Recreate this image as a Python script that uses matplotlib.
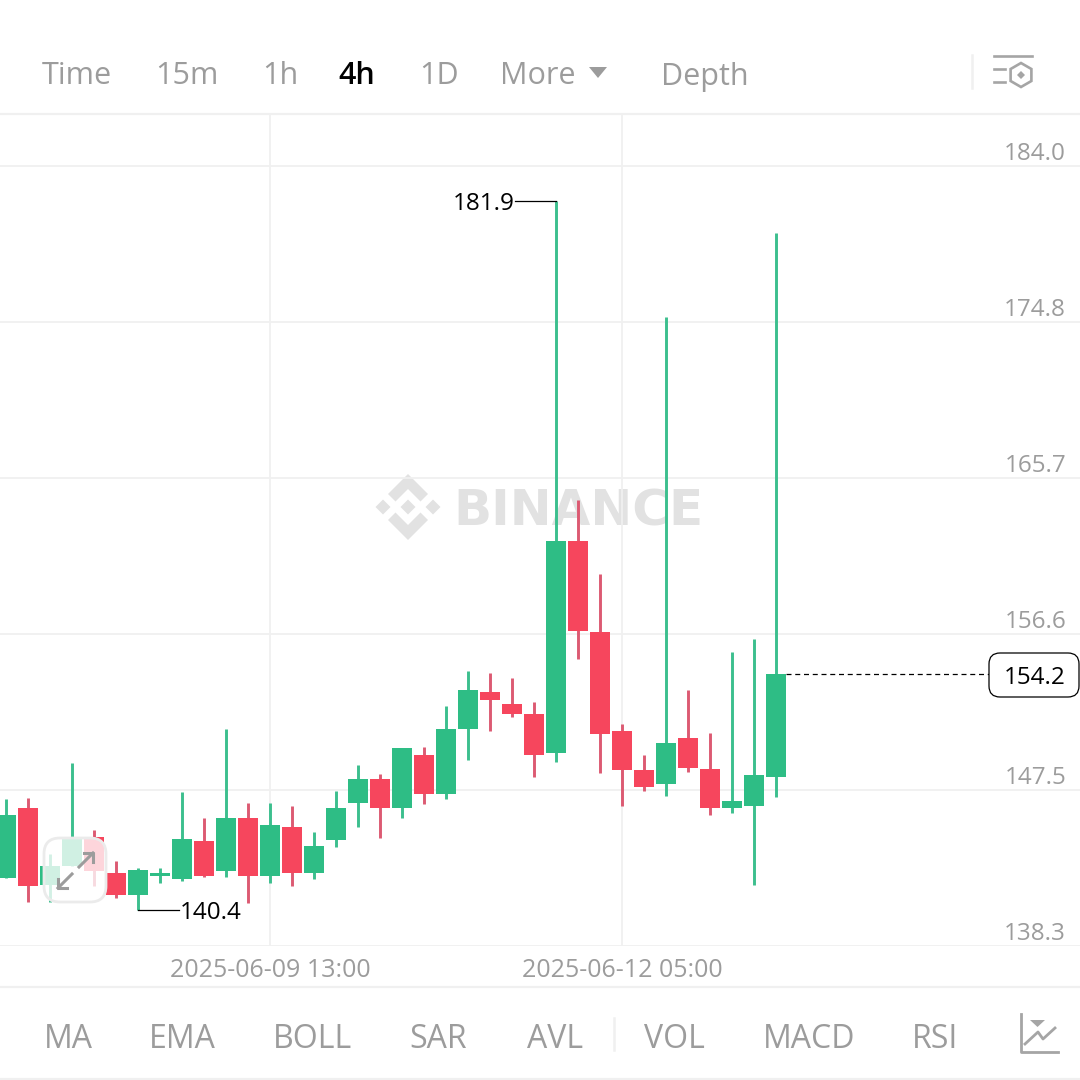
import numpy as np
import matplotlib.pyplot as plt
from matplotlib.patches import FancyBboxPatch, Polygon

plt.rcParams['font.family'] = ['Open Sans', 'DejaVu Sans']

# 4h candles, oldest first
opens = [142.26, 146.36, 141.85, 142.96, 144.66, 142.55, 141.26, 142.38, 142.20, 144.43, 142.67, 145.78,
         142.38, 145.25, 142.55, 144.49, 146.65, 148.06, 146.36, 149.47, 147.18, 150.99, 153.16, 152.45,
         151.87, 149.58, 162.00, 156.67, 150.87, 148.59, 147.77, 150.46, 148.65, 146.36, 146.48, 148.18]
highs = [146.89, 146.95, 143.67, 149.00, 145.07, 143.26, 142.85, 142.85, 147.30, 145.78, 150.99, 146.65,
         146.65, 146.48, 144.96, 147.36, 148.88, 148.35, 149.88, 149.93, 152.34, 154.39, 154.27, 153.98,
         152.57, 181.90, 164.40, 160.07, 151.28, 149.47, 175.12, 153.27, 150.75, 155.50, 156.26, 180.05]
lows = [142.26, 140.85, 140.85, 142.96, 141.79, 141.09, 140.40, 141.97, 142.08, 142.32, 142.32, 140.80,
        141.97, 141.79, 142.20, 144.08, 145.25, 144.60, 145.78, 146.60, 146.89, 149.17, 150.87, 151.69,
        148.18, 149.06, 155.09, 148.41, 146.48, 147.36, 147.06, 148.47, 145.95, 146.07, 141.85, 147.00]
closes = [145.95, 141.79, 142.96, 144.60, 142.67, 141.26, 142.73, 142.55, 144.55, 142.38, 145.78, 142.38,
          145.37, 142.55, 144.14, 146.36, 148.06, 146.36, 149.88, 147.18, 150.99, 153.27, 152.69, 151.87,
          149.47, 162.00, 156.73, 150.70, 148.59, 147.59, 150.17, 148.70, 146.36, 146.77, 148.29, 154.20]

y_ticks = [184.0, 174.86, 165.72, 156.58, 147.44, 138.3]
y_labels = ['184.0', '174.8', '165.7', '156.6', '147.5', '138.3']
x_ticks = [12, 28]
x_labels = ['2025-06-09 13:00', '2025-06-12 05:00']
last_price = 154.2

top_tabs = ['Time', '15m', '1h', '4h', '1D', 'More', 'Depth']
top_x = [42, 155, 262, 338, 419, 500, 661]
bottom_tabs = ['MA', 'EMA', 'BOLL', 'SAR', 'AVL', 'VOL', 'MACD', 'RSI']
bottom_x = [44, 149, 273, 409, 527, 644, 763, 912]

GREEN = '#2ebd85'
RED = '#f6465d'
GREEN_WICK = '#3cbf8e'
RED_WICK = '#dc5a72'
GRAY = '#9c9c9c'
LINE = '#f0f0f0'

fig = plt.figure(figsize=(10.8, 10.8), dpi=100, facecolor='white')

# background layer in pixels: separators and watermark
ax_bg = fig.add_axes([0, 0, 1, 1], zorder=0)
ax_bg.set_xlim(0, 1080)
ax_bg.set_ylim(1080, 0)
ax_bg.axis('off')
for y in [114, 987, 1079]:
    ax_bg.plot([0, 1080], [y, y], color=LINE, lw=1.6)
ax_bg.plot([972, 972], [55, 88], color=LINE, lw=1.8)
ax_bg.plot([614, 614], [1018, 1050], color=LINE, lw=1.8)

# logo
wm = '#e2e2e2'
cx, cy = 408, 507
for dx in [-25, 0, 25]:
    ax_bg.add_patch(Polygon([(cx + dx - 7.5, cy), (cx + dx, cy - 7.5), (cx + dx + 7.5, cy), (cx + dx, cy + 7.5)],
                            color=wm, lw=0))
for s in [1, -1]:
    ax_bg.add_patch(Polygon([(cx, cy - 33 * s), (cx + 20, cy - 13 * s), (cx + 12.5, cy - 5.5 * s), (cx, cy - 18 * s),
                             (cx - 12.5, cy - 5.5 * s), (cx - 20, cy - 13 * s)], color=wm, lw=0))
ax_bg.text(578, 507, 'BINANCE', color=wm, fontsize=36, fontweight='bold', ha='center', va='center_baseline',
           family='DejaVu Sans')

# candles
ax = fig.add_axes([0, (1080 - 945.5) / 1080, 1, (945.5 - 115) / 1080], zorder=1)
ax.patch.set_alpha(0)
ax.set_xlim(-6 / 22, 1074 / 22)
ax.set_ylim(138.3, 186.96)
for s in ax.spines.values():
    s.set_visible(False)

x = np.arange(len(opens))
o = np.array(opens)
c = np.array(closes)
up = c >= o
ax.vlines(x[up], np.array(lows)[up], np.array(highs)[up], color=GREEN_WICK, lw=2.1, zorder=3)
ax.vlines(x[~up], np.array(lows)[~up], np.array(highs)[~up], color=RED_WICK, lw=2.1, zorder=3)
ax.bar(x[up], (c - o)[up], bottom=o[up], width=0.89, color=GREEN, zorder=4)
ax.bar(x[~up], (c - o)[~up], bottom=o[~up], width=0.89, color=RED, zorder=4)

ax.set_xticks(x_ticks)
ax.set_xticklabels(x_labels, fontsize=18, color=GRAY)
ax.yaxis.tick_right()
ax.set_yticks(y_ticks)
ax.set_yticklabels(y_labels, fontsize=17.5, color=GRAY)
ax.tick_params(axis='both', length=0)
ax.tick_params(axis='x', pad=9)
ax.tick_params(axis='y', pad=-10)
for label in ax.get_yticklabels():
    label.set_ha('right')
    label.set_va('bottom')
ax.grid(True, color=LINE, lw=1.3)
ax.set_axisbelow(True)

# min / max labels
hi_i = int(np.argmax(highs))
lo_i = int(np.argmin(lows))
ax.plot([hi_i - 1.86, hi_i], [max(highs), max(highs)], color='black', lw=0.9, zorder=5)
ax.text(hi_i - 1.87, max(highs), '181.9', ha='right', va='center_baseline', fontsize=17.5, color='black', zorder=5)
ax.plot([lo_i, lo_i + 1.86], [min(lows), min(lows)], color='black', lw=0.9, zorder=5)
ax.text(lo_i + 1.92, min(lows), '140.4', ha='left', va='center_baseline', fontsize=17.5, color='black', zorder=5)
# last price dashed line
ax.plot([len(opens) - 0.55, 44.7], [last_price, last_price], color='black', lw=0.9, dashes=(4, 3), zorder=2)

# top layer in pixels: tabs, icons, buttons
ax_top = fig.add_axes([0, 0, 1, 1], zorder=2)
ax_top.patch.set_alpha(0)
ax_top.set_xlim(0, 1080)
ax_top.set_ylim(1080, 0)
ax_top.axis('off')

for name, px in zip(top_tabs, top_x):
    active = name == '4h'
    ax_top.text(px, 73, name, fontsize=22, color='black' if active else GRAY, ha='left', va='center_baseline',
                fontweight='semibold' if active else 'normal')
for name, px in zip(bottom_tabs, bottom_x):
    ax_top.text(px, 1036, name, fontsize=23, color=GRAY, ha='left', va='center_baseline')
ax_top.add_patch(Polygon([(589, 67), (607, 67), (598, 78)], color=GRAY, lw=0))

# settings icon
icon = '#a5a5a5'
ax_top.plot([994, 1032], [56, 56], color=icon, lw=1.9)
ax_top.plot([994, 1005], [69, 69], color=icon, lw=1.9)
ax_top.plot([994, 1005], [82, 82], color=icon, lw=1.9)
ang = np.deg2rad([90, 150, 210, 270, 330, 30])
ax_top.add_patch(Polygon(np.c_[1021 + 12 * np.cos(ang), 75 + 12 * np.sin(ang)], fill=False, ec=icon, lw=1.9))
ax_top.add_patch(Polygon([(1017, 75), (1021, 71), (1025, 75), (1021, 79)], color=icon, lw=0))

# indicators icon
ax_top.plot([1021, 1021, 1058], [1014, 1052, 1052], color=icon, lw=2)
ax_top.plot([1025, 1038, 1043, 1055], [1044, 1032, 1039, 1028], color=icon, lw=2)
ax_top.add_patch(Polygon([(1030, 1020), (1045, 1020), (1037.5, 1027)], color=icon, lw=0))

# last price box
ax_top.add_patch(FancyBboxPatch((997, 661), 74, 28, boxstyle='round,pad=8,rounding_size=11', fc='white',
                                ec='black', lw=0.9))
ax_top.text(1035, 675, '154.2', fontsize=17.5, color='black', ha='center', va='center_baseline')

# expand button
ax_top.add_patch(FancyBboxPatch((55, 849), 40, 42, boxstyle='round,pad=11,rounding_size=16', fc=(1, 1, 1, 0.78),
                                ec='#ebebeb', lw=2))
ax_top.plot([79, 93], [867, 853], color=GRAY, lw=2.2)
ax_top.plot([84, 93, 93], [853, 853, 862], color=GRAY, lw=2.2)
ax_top.plot([72, 58], [874, 888], color=GRAY, lw=2.2)
ax_top.plot([58, 58, 67], [879, 888, 888], color=GRAY, lw=2.2)

plt.savefig('out.png', dpi=100, facecolor='white')
